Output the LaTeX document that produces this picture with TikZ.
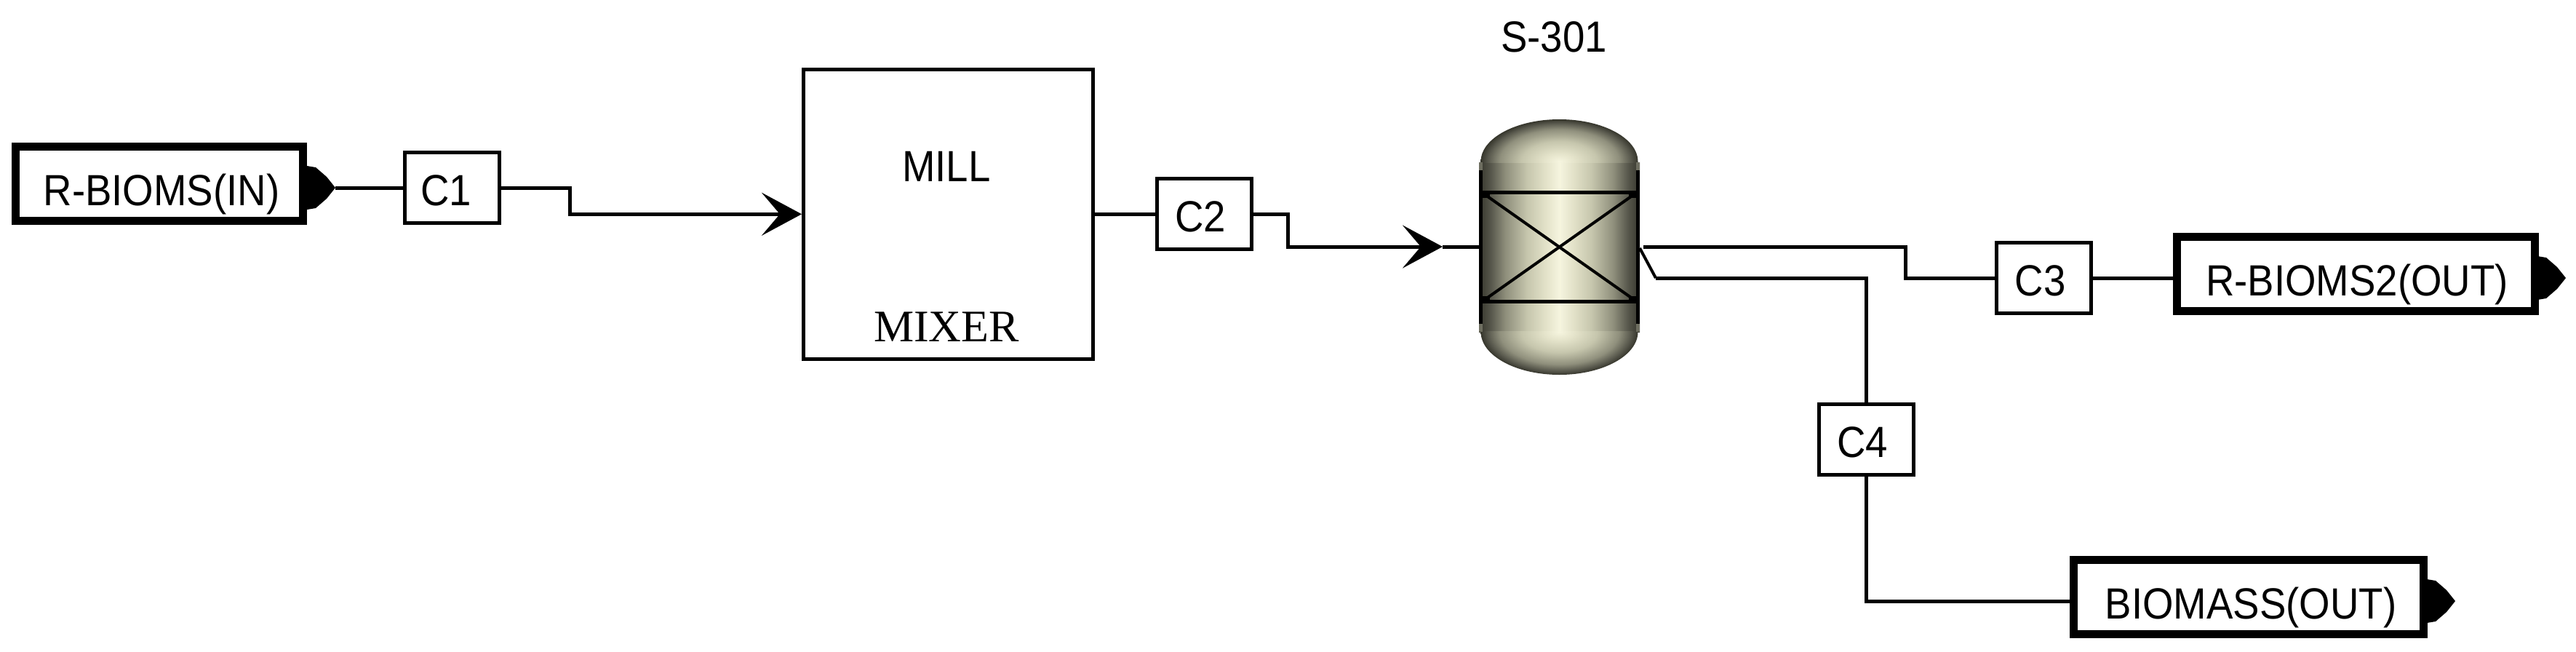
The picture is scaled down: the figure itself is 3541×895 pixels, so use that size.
\documentclass[tikz,border=0pt]{standalone}
\usepackage{fontspec}
\setmainfont{Liberation Sans}[FakeStretch=0.91]
\newfontfamily\serifmix{Liberation Serif}
\usetikzlibrary{arrows.meta,calc}
\definecolor{v0}{HTML}{F6F5DF}
\definecolor{v1}{HTML}{E4E3CA}
\definecolor{v2}{HTML}{C6C6AD}
\definecolor{v3}{HTML}{8F8F7C}
\definecolor{v4}{HTML}{55554A}
\definecolor{v5}{HTML}{36362C}
\definecolor{vear}{HTML}{6E6E60}
\pgfdeclarehorizontalshading{vesselaxis}{100bp}{color(0bp)=(v5); color(25bp)=(v5); color(28.5bp)=(v4); color(33.25bp)=(v3); color(40bp)=(v2); color(46bp)=(v1); color(50bp)=(v0); color(54bp)=(v1); color(60bp)=(v2); color(66.75bp)=(v3); color(71.5bp)=(v4); color(75bp)=(v5); color(100bp)=(v5)}
\pgfdeclareradialshading{vesseldome}{\pgfpoint{0bp}{0bp}}{color(0bp)=(v0); color(5bp)=(v1); color(12bp)=(v2); color(19bp)=(v3); color(23bp)=(v4); color(25bp)=(v5); color(50bp)=(v5)}
\tikzset{
  lbl/.style={font=\fontsize{60}{60}\selectfont,text height=43pt,text depth=0pt,inner sep=0pt,text=black},
  streambox/.style={lbl,draw=black,fill=white,line width=11pt},
  connbox/.style={lbl,draw=black,fill=white,line width=5pt,minimum width=130pt,minimum height=97pt},
  pipe/.style={draw=black,line width=5pt,line join=miter},
  flowtip/.style={-{Stealth[length=55pt,width=59pt,inset=25pt]}},
  porttip/.style={fill=black,draw=none},
  vline/.style={draw=black,line width=5pt},
  vcross/.style={draw=black,line width=4pt}
}
\newcommand{\off}[3]{\kern#1pt\raisebox{#2pt}{#3}}
\newcommand{\portshape}[1]{\fill[porttip] (#1) ++(-39,-30) -- ++(12,2) -- ++(15,13) -- ++(12,15) -- ++(-12,15) -- ++(-15,13) -- ++(-12,2) -- cycle;}
\begin{document}
\begin{tikzpicture}[x=1pt,y=-1pt]
\useasboundingbox (0,0) rectangle (3541,895);
\fill[white] (0,0) rectangle (3541,895);
% stream boxes
\node[streambox,minimum width=395pt,minimum height=102pt] (rin) at (219,252.5) {\off{6}{-8.5}{R-BIOMS(IN)}};
\node[streambox,minimum width=492pt,minimum height=102pt] (rout) at (3238,376.5) {\off{4}{-8.5}{R-BIOMS2(OUT)}};
\node[streambox,minimum width=481pt,minimum height=102pt] (bout) at (3091,820.5) {\off{6}{-8.5}{BIOMASS(OUT)}};
\coordinate (rintip) at (461,258);
\coordinate (routtip) at (3527,382);
\coordinate (bouttip) at (3375,826);
\portshape{rintip}
\portshape{routtip}
\portshape{bouttip}
% mixer
\node[draw=black,fill=white,line width=5pt,minimum width=398pt,minimum height=397.5pt,inner sep=0pt] (mill) at (1303.5,294.25) {};
\node[lbl] (milltext) at (1301,228) {MILL};
\node[lbl,font=\serifmix\fontsize{62}{62}\selectfont] (mixtext) at (1301,448) {MIXER};
% separator
\coordinate (vessel) at (2143.5,339.5);
\node[minimum width=221pt,minimum height=351pt,inner sep=0pt,outer sep=0pt] (sep) at (vessel) {};
\begin{scope}
  \clip (2033,223) rectangle (2254,456);
  \shade[shading=vesselaxis] (2033,223) rectangle (2254,456);
\end{scope}
\begin{scope}
  \clip (2030,160) rectangle (2257,223.5);
  \shade[shading=vesseldome] (2143.5,222) ellipse [x radius=108,y radius=58];
\end{scope}
\begin{scope}
  \clip (2030,455.5) rectangle (2257,520);
  \shade[shading=vesseldome] (2143.5,456) ellipse [x radius=108,y radius=59];
\end{scope}
\fill[vear] (2033,223) rectangle (2038,234);
\fill[vear] (2249,223) rectangle (2254,234);
\fill[vear] (2033,445) rectangle (2038,456);
\fill[vear] (2249,445) rectangle (2254,456);
\fill[black] (2033,234) rectangle (2038,445);
\fill[black] (2249,234) rectangle (2254,445);
\draw[vline] (2033,264) -- (2254,264);
\draw[vline] (2033,414) -- (2254,414);
\fill[black] (2035,262) rectangle (2048,272);
\fill[black] (2239,262) rectangle (2252,272);
\fill[black] (2035,407) rectangle (2048,417);
\fill[black] (2239,407) rectangle (2252,417);
\draw[vcross] (2042,268) -- (2245,411);
\draw[vcross] (2245,268) -- (2042,411);
\node[lbl] (septext) at (2136,49.5) {S-301};
% connector boxes
\node[connbox] (c1) at (621,258) {\off{-16}{-3}{C1}};
\node[connbox] (c2) at (1655,294.25) {\off{-10}{-3}{C2}};
\node[connbox] (c3) at (2809.5,382) {\off{-10}{-3}{C3}};
\node[connbox] (c4) at (2565,604) {\off{-10}{-3}{C4}};
% connectors
\draw[pipe] (rintip) -- (c1.west);
\coordinate (bend1) at (783,294.25);
\draw[pipe,flowtip] (c1.east) -| (bend1) -- (mill.west);
\draw[pipe] (mill.east) -- (c2.west);
\coordinate (bend2) at (1770,339);
\coordinate (tip2) at (1983,339);
\coordinate (sepin) at (2033,339);
\draw[pipe,flowtip] (c2.east) -| (bend2) -- (tip2);
\draw[pipe] (tip2) -- (sepin);
\coordinate (out1) at (2259,339);
\coordinate (bend3) at (2619,382);
\draw[pipe] (out1) -| (bend3) -- (c3.west);
\draw[pipe] (c3.east) -- (c3.east -| rout.west);
\coordinate (out2) at (2254,341);
\coordinate (knee) at (2276,382);
\draw[draw=black,line width=4pt] (out2) -- (knee);
\draw[pipe] (knee) -| (c4.north);
\draw[pipe] (c4.south) |- (bout.west |- bouttip);
\end{tikzpicture}
\end{document}
